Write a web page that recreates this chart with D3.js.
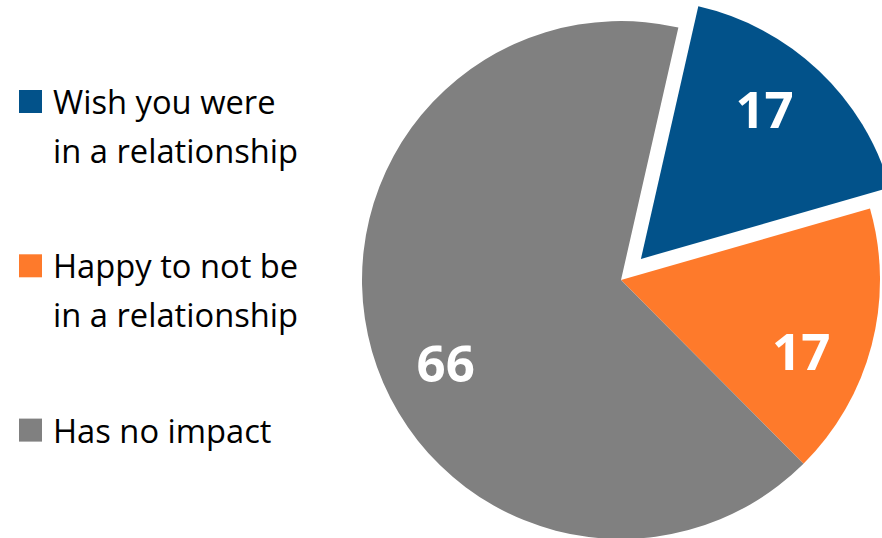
<!DOCTYPE html>
<html>
<head>
<meta charset="utf-8">
<script src="https://cdn.jsdelivr.net/npm/d3@7"></script>
<style>
  html, body { margin: 0; padding: 0; background: #fff; }
  svg { display: block; }
</style>
</head>
<body>
<div id="chart"></div>
<script>
// Data
const categories = ["Wish you were\nin a relationship", "Happy to not be\nin a relationship", "Has no impact"];
const values = [17, 17, 66];
const colors = ["#02528A", "#FE7A2B", "#808080"];

// Dimensions
const width = 882;
const height = 538;
const cx = 621, cy = 280;
const radius = 259;
const explode = [29, 0, 0];           // offset of each slice along its bisector
const labelRadius = 194;
const labelNudge = [-3.8, 7.1, -9.4]; // degrees, label placement tweak

const svg = d3.select("#chart")
  .append("svg")
  .attr("width", width)
  .attr("height", height);

const data = categories.map((c, i) => ({ label: c, value: values[i], color: colors[i], i }));

// Pie starts a little past 12 o'clock
const start = 12.8 * Math.PI / 180;
const pie = d3.pie()
  .sort(null)
  .value(d => d.value)
  .startAngle(start)
  .endAngle(start + 2 * Math.PI);

const arcs = pie(data);
const arc = d3.arc().innerRadius(0).outerRadius(radius);

const shift = d => {
  const a = (d.startAngle + d.endAngle) / 2;
  const o = explode[d.data.i];
  return [o * Math.sin(a), -o * Math.cos(a)];
};

const g = svg.append("g").attr("transform", `translate(${cx},${cy})`);

const slices = g.selectAll(".slice")
  .data(arcs)
  .enter()
  .append("g")
  .attr("class", "slice")
  .attr("transform", d => `translate(${shift(d)})`);

slices.append("path")
  .attr("d", arc)
  .attr("fill", d => d.data.color);

// Labels inside slices
slices.append("text")
  .attr("transform", d => {
    const a = (d.startAngle + d.endAngle) / 2 + labelNudge[d.data.i] * Math.PI / 180;
    return `translate(${labelRadius * Math.sin(a)},${-labelRadius * Math.cos(a)})`;
  })
  .attr("text-anchor", "middle")
  .attr("dy", "0.36em")
  .style("font-family", "'Open Sans', sans-serif")
  .style("font-weight", "bold")
  .style("font-size", "51px")
  .style("fill", "#fff")
  .text(d => d.data.value);

// Legend
const legend = svg.append("g").attr("class", "legend");
const itemStep = 164.3;

const items = legend.selectAll(".item")
  .data(data)
  .enter()
  .append("g")
  .attr("class", "item")
  .attr("transform", d => `translate(19, ${90 + d.i * itemStep})`);

items.append("rect")
  .attr("width", 23)
  .attr("height", 23)
  .attr("fill", d => d.color);

items.append("text")
  .style("font-family", "'Open Sans', sans-serif")
  .style("font-size", "32.7px")
  .style("fill", "#000")
  .selectAll("tspan")
  .data(d => d.label.split("\n"))
  .enter()
  .append("tspan")
  .attr("x", 34)
  .attr("y", (d, j) => 24 + j * 49)
  .text(d => d);
</script>
</body>
</html>
